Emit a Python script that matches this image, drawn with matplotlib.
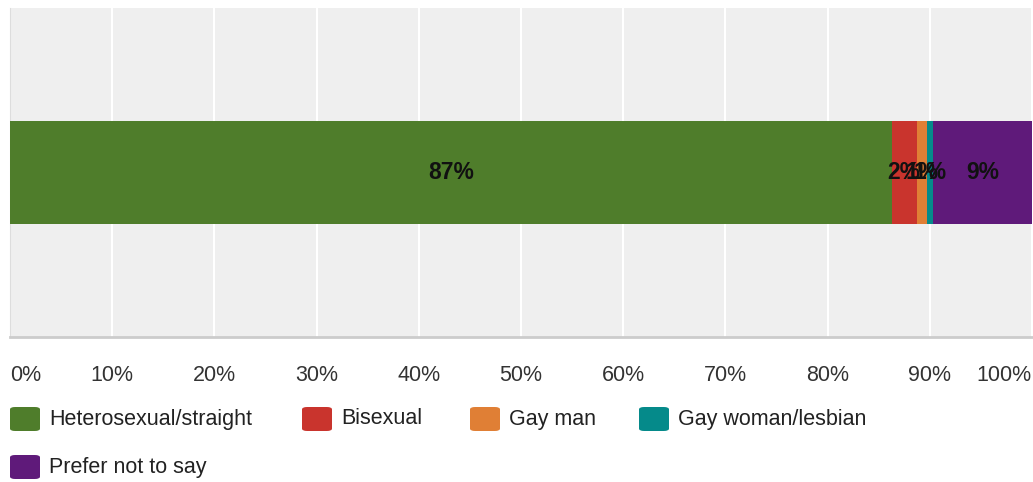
import matplotlib.pyplot as plt
from matplotlib.patches import FancyBboxPatch

plt.rcParams['font.family'] = ['Liberation Sans', 'DejaVu Sans']

# data
categories = ['Heterosexual/straight', 'Bisexual', 'Gay man', 'Gay woman/lesbian', 'Prefer not to say']
values = [86.3, 2.4, 1.0, 0.6, 9.7]
labels = ['87%', '2%', '1%', '1%', '9%']
colors = ['#4f7d2b', '#c9342d', '#e07f35', '#058a8a', '#5f1a7a']
ticks = [0, 10, 20, 30, 40, 50, 60, 70, 80, 90, 100]
tick_labels = ['%d%%' % t for t in ticks]

W, H = 1033, 482
fig = plt.figure(figsize=(W / 100, H / 100), dpi=100)
ax = fig.add_axes([10 / W, 1 - 337 / H, 1022 / W, 329 / H])
ax.set_facecolor('#efefef')

left = 0
for v, lab, c in zip(values, labels, colors):
    ax.barh(0, v, left=left, height=1, color=c, zorder=3)
    ax.text(left + v / 2, 0, lab, ha='center', va='center', fontsize=16.5,
            fontweight='bold', color='#111111', zorder=4)
    left += v

ax.set_xlim(0, 100)
ax.set_ylim(-1.6, 1.6)
ax.set_yticks([])
ax.set_xticks(ticks)
ax.set_xticklabels(tick_labels, fontsize=15.5, color='#333333')
ax.get_xticklabels()[0].set_horizontalalignment('left')
ax.get_xticklabels()[-1].set_horizontalalignment('right')
ax.tick_params(axis='x', length=0, pad=20)
ax.grid(axis='x', color='white', linewidth=1.5, zorder=1)
for s in ['top', 'right']:
    ax.spines[s].set_visible(False)
ax.spines['left'].set_color('#dddddd')
ax.spines['bottom'].set_color('#cccccc')
ax.spines['bottom'].set_linewidth(2)

# legend drawn by hand, two rows
legend_pos = [(10, 419), (302, 419), (470, 419), (639, 419), (10, 467)]
for (px, py), cat, c in zip(legend_pos, categories, colors):
    box = FancyBboxPatch((px / W, 1 - (py + 12) / H), 30 / W, 24 / H,
                         boxstyle='round,pad=0,rounding_size=0.005',
                         transform=fig.transFigure, facecolor=c, edgecolor='none')
    fig.add_artist(box)
    fig.text((px + 39) / W, 1 - py / H, cat, ha='left', va='center',
             fontsize=15.5, color='#222222')

fig.savefig('out.png', dpi=100)
